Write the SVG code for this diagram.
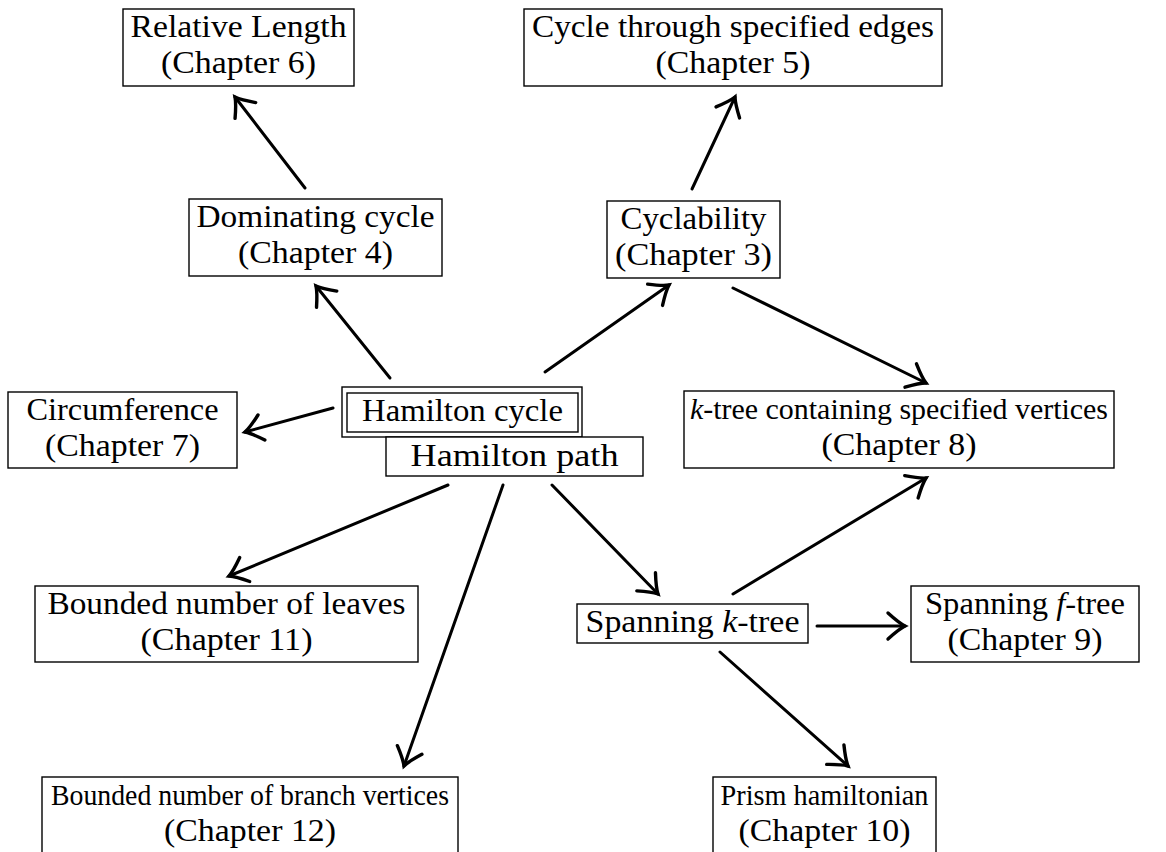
<svg xmlns="http://www.w3.org/2000/svg" width="1166" height="852" viewBox="0 0 1166 852">
<defs>
<style>
.box{fill:#fff;stroke:#000;stroke-width:1.4}
.t{font-family:"Liberation Serif","Times New Roman",serif;font-size:32px;fill:#000;text-anchor:middle}
.s{font-size:29px}
.e{stroke:#000;stroke-width:3;fill:none;stroke-linecap:round}
</style>
<marker id="ah" markerUnits="userSpaceOnUse" markerWidth="40" markerHeight="40" viewBox="-20 -20 40 40" refX="0" refY="0" orient="auto" overflow="visible">
<path d="M-17,-13 Q-6,-3 0,0 Q-6,3 -17,13" stroke="#000" stroke-width="3.4" fill="none" stroke-linecap="round"/>
</marker>
</defs>
<rect width="1166" height="852" fill="#fff"/>
<g id="connectors">
<line class="e" x1="305" y1="188" x2="235" y2="97" marker-end="url(#ah)"/>
<line class="e" x1="692" y1="189" x2="735" y2="97" marker-end="url(#ah)"/>
<line class="e" x1="390" y1="378" x2="316" y2="286" marker-end="url(#ah)"/>
<line class="e" x1="545" y1="372" x2="669" y2="285" marker-end="url(#ah)"/>
<line class="e" x1="733" y1="288" x2="926" y2="383" marker-end="url(#ah)"/>
<line class="e" x1="333" y1="408" x2="245" y2="432" marker-end="url(#ah)"/>
<line class="e" x1="448" y1="485" x2="229" y2="576" marker-end="url(#ah)"/>
<line class="e" x1="503" y1="485" x2="404" y2="766" marker-end="url(#ah)"/>
<line class="e" x1="552" y1="485" x2="658" y2="594" marker-end="url(#ah)"/>
<line class="e" x1="733" y1="594" x2="926" y2="478" marker-end="url(#ah)"/>
<line class="e" x1="817" y1="626" x2="905" y2="626" marker-end="url(#ah)"/>
<line class="e" x1="720" y1="652" x2="848" y2="766" marker-end="url(#ah)"/>
</g>
<g id="relative-length">
<rect class="box" x="123" y="9" width="231" height="77"/>
<text class="t" x="238.5" y="37" textLength="216" lengthAdjust="spacingAndGlyphs">Relative Length</text>
<text class="t" x="238.5" y="73" textLength="155" lengthAdjust="spacingAndGlyphs">(Chapter 6)</text>
</g>
<g id="cycle-through-edges">
<rect class="box" x="524" y="9" width="418" height="77"/>
<text class="t" x="733" y="37" textLength="402" lengthAdjust="spacingAndGlyphs">Cycle through specified edges</text>
<text class="t" x="733" y="73" textLength="155" lengthAdjust="spacingAndGlyphs">(Chapter 5)</text>
</g>
<g id="dominating-cycle">
<rect class="box" x="189" y="199" width="253" height="77"/>
<text class="t" x="315.5" y="227" textLength="238" lengthAdjust="spacingAndGlyphs">Dominating cycle</text>
<text class="t" x="315.5" y="263" textLength="155" lengthAdjust="spacingAndGlyphs">(Chapter 4)</text>
</g>
<g id="cyclability">
<rect class="box" x="607" y="201" width="173" height="77"/>
<text class="t" x="693.5" y="229" textLength="146" lengthAdjust="spacingAndGlyphs">Cyclability</text>
<text class="t" x="693.5" y="265" textLength="157" lengthAdjust="spacingAndGlyphs">(Chapter 3)</text>
</g>
<g id="circumference">
<rect class="box" x="8" y="392" width="229" height="76"/>
<text class="t" x="122.5" y="420" textLength="192" lengthAdjust="spacingAndGlyphs">Circumference</text>
<text class="t" x="122.5" y="456" textLength="155" lengthAdjust="spacingAndGlyphs">(Chapter 7)</text>
</g>
<g id="hamilton-cycle">
<rect class="box" x="342" y="387" width="240" height="50"/>
<rect class="box" x="347" y="393" width="231" height="39"/>
<text class="t" x="462.5" y="421" textLength="201" lengthAdjust="spacingAndGlyphs">Hamilton cycle</text>
</g>
<g id="hamilton-path">
<rect class="box" x="386" y="437" width="257" height="39"/>
<text class="t" x="514.5" y="466" textLength="208" lengthAdjust="spacingAndGlyphs">Hamilton path</text>
</g>
<g id="k-tree-specified">
<rect class="box" x="684" y="391" width="430" height="77"/>
<text class="t s" x="899" y="419" font-size="30" textLength="418" lengthAdjust="spacingAndGlyphs"><tspan font-style="italic">k</tspan>-tree containing specified vertices</text>
<text class="t" x="899" y="455" textLength="155" lengthAdjust="spacingAndGlyphs">(Chapter 8)</text>
</g>
<g id="bounded-leaves">
<rect class="box" x="35" y="586" width="383" height="76"/>
<text class="t" x="226.5" y="614" textLength="358" lengthAdjust="spacingAndGlyphs">Bounded number of leaves</text>
<text class="t" x="226.5" y="650" textLength="172" lengthAdjust="spacingAndGlyphs">(Chapter 11)</text>
</g>
<g id="spanning-k-tree">
<rect class="box" x="577" y="604" width="231" height="39"/>
<text class="t" x="692.5" y="632" textLength="214" lengthAdjust="spacingAndGlyphs">Spanning <tspan font-style="italic">k</tspan>-tree</text>
</g>
<g id="spanning-f-tree">
<rect class="box" x="911" y="586" width="228" height="76"/>
<text class="t" x="1025" y="614" textLength="200" lengthAdjust="spacingAndGlyphs">Spanning <tspan font-style="italic">f</tspan>-tree</text>
<text class="t" x="1025" y="650" textLength="155" lengthAdjust="spacingAndGlyphs">(Chapter 9)</text>
</g>
<g id="branch-vertices">
<rect class="box" x="42" y="777" width="416" height="90"/>
<text class="t s" x="250" y="805" textLength="398" lengthAdjust="spacingAndGlyphs">Bounded number of branch vertices</text>
<text class="t" x="250" y="841" textLength="172" lengthAdjust="spacingAndGlyphs">(Chapter 12)</text>
</g>
<g id="prism-hamiltonian">
<rect class="box" x="713" y="777" width="223" height="90"/>
<text class="t s" x="824.5" y="805" textLength="208" lengthAdjust="spacingAndGlyphs">Prism hamiltonian</text>
<text class="t" x="824.5" y="841" textLength="172" lengthAdjust="spacingAndGlyphs">(Chapter 10)</text>
</g>
</svg>
